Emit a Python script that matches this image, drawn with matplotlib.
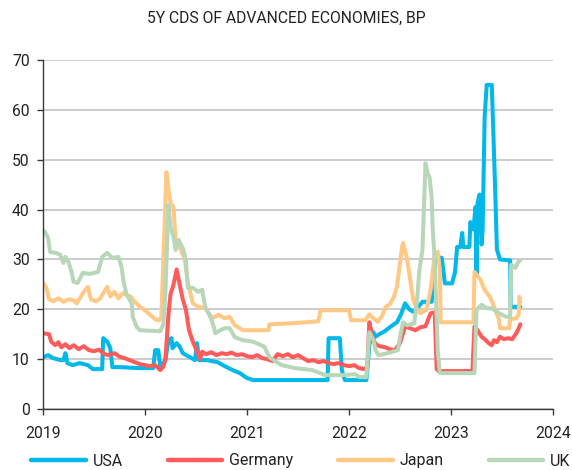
import matplotlib
matplotlib.use("Agg")
import matplotlib.pyplot as plt
from matplotlib.lines import Line2D

plt.rcParams['font.family'] = ['Roboto', 'DejaVu Sans']

title = "5Y CDS OF ADVANCED ECONOMIES, BP"
series_names = ["USA", "Germany", "Japan", "UK"]
colors = ["#00B8EA", "#FF5B5B", "#FFC985", "#B8D7B8"]
x_ticks = [2019, 2020, 2021, 2022, 2023, 2024]
y_ticks = [0, 10, 20, 30, 40, 50, 60, 70]

usa_t = [2019.00, 2019.05, 2019.10, 2019.17, 2019.20, 2019.22, 2019.24, 2019.29, 2019.36, 2019.44,
         2019.49, 2019.58, 2019.59, 2019.63, 2019.66, 2019.68, 2019.75, 2019.95, 2020.08, 2020.10,
         2020.13, 2020.15, 2020.20, 2020.23, 2020.26, 2020.27, 2020.31, 2020.34, 2020.37, 2020.44,
         2020.49, 2020.51, 2020.53, 2020.61, 2020.71, 2020.80, 2020.86, 2020.93, 2021.00, 2021.06,
         2021.79, 2021.80, 2021.91, 2021.93, 2021.96, 2022.17, 2022.18, 2022.20, 2022.24, 2022.25,
         2022.28, 2022.35, 2022.40, 2022.47, 2022.51, 2022.55, 2022.59, 2022.63, 2022.68, 2022.72,
         2022.81, 2022.84, 2022.86, 2022.91, 2022.94, 2023.01, 2023.04, 2023.06, 2023.09, 2023.11,
         2023.12, 2023.18, 2023.19, 2023.22, 2023.24, 2023.25, 2023.26, 2023.28, 2023.30, 2023.31,
         2023.33, 2023.35, 2023.40, 2023.41, 2023.43, 2023.45, 2023.48, 2023.58, 2023.585, 2023.68]
usa_v = [10.4, 10.8, 10.2, 9.8, 9.8, 11.2, 9.2, 8.8, 9.2, 8.8,
         8.0, 8.0, 14.2, 13.5, 12.2, 8.4, 8.4, 8.2, 8.2, 11.8,
         11.8, 8.4, 9.8, 13.8, 14.2, 12.2, 13.2, 12.5, 11.2, 10.4,
         9.8, 13.2, 9.8, 9.8, 9.4, 8.4, 7.8, 7.2, 6.2, 5.8,
         5.8, 14.2, 14.2, 7.8, 5.8, 5.8, 8.0, 13.0, 15.4, 14.4,
         14.8, 15.6, 16.4, 17.4, 19.0, 21.2, 20.0, 19.5, 20.5, 21.5,
         21.5, 29.0, 30.5, 30.3, 25.2, 25.2, 27.5, 32.5, 32.5, 35.3,
         32.5, 32.5, 37.5, 36.0, 40.5, 27.0, 41.3, 43.0, 33.0, 36.0,
         58.6, 65.0, 65.0, 58.6, 46.0, 32.0, 30.0, 29.8, 20.5, 20.5]

ger_t = [2019.00, 2019.06, 2019.08, 2019.12, 2019.15, 2019.18, 2019.22, 2019.26, 2019.30, 2019.35,
         2019.40, 2019.45, 2019.50, 2019.55, 2019.60, 2019.65, 2019.70, 2019.75, 2019.80, 2019.85,
         2019.90, 2019.95, 2020.00, 2020.05, 2020.10, 2020.15, 2020.18, 2020.20, 2020.23, 2020.25,
         2020.28, 2020.31, 2020.34, 2020.37, 2020.40, 2020.43, 2020.46, 2020.49, 2020.54, 2020.56,
         2020.60, 2020.65, 2020.70, 2020.75, 2020.80, 2020.85, 2020.90, 2020.95, 2021.00, 2021.05,
         2021.10, 2021.15, 2021.20, 2021.25, 2021.30, 2021.35, 2021.40, 2021.45, 2021.50, 2021.55,
         2021.60, 2021.65, 2021.70, 2021.75, 2021.80, 2021.85, 2021.90, 2021.95, 2022.00, 2022.05,
         2022.10, 2022.15, 2022.18, 2022.20, 2022.23, 2022.26, 2022.30, 2022.35, 2022.40, 2022.45,
         2022.50, 2022.55, 2022.60, 2022.65, 2022.70, 2022.75, 2022.80, 2022.84, 2022.86, 2022.88,
         2023.21, 2023.23, 2023.26, 2023.30, 2023.33, 2023.37, 2023.40, 2023.42, 2023.45, 2023.48,
         2023.52, 2023.56, 2023.60, 2023.64, 2023.66, 2023.68]
ger_v = [15.2, 15.0, 13.5, 12.8, 13.4, 12.4, 13.0, 12.2, 12.8, 12.0,
         12.6, 11.8, 11.6, 11.9, 11.0, 10.8, 11.2, 10.5, 10.2, 9.8,
         9.4, 9.0, 8.8, 8.6, 8.8, 7.8, 8.5, 10.0, 19.0, 23.0,
         25.0, 28.0, 25.0, 22.0, 20.0, 16.0, 14.0, 12.5, 10.0, 11.5,
         11.0, 11.4, 10.8, 11.2, 11.0, 11.3, 10.8, 11.0, 10.6, 10.4,
         10.8, 10.2, 10.0, 9.6, 11.0, 10.6, 11.0, 10.4, 10.8, 10.2,
         9.6, 9.8, 9.4, 9.6, 9.2, 9.0, 9.2, 8.8, 8.6, 8.8,
         8.2, 8.0, 8.5, 17.4, 14.4, 13.0, 12.6, 12.4, 12.0, 11.8,
         13.2, 16.6, 16.2, 15.8, 16.4, 16.6, 19.2, 19.4, 8.0, 7.6,
         7.6, 16.5, 15.8, 14.5, 14.0, 13.2, 12.8, 13.8, 13.4, 14.5,
         14.0, 14.2, 14.0, 15.2, 16.0, 17.0]

jap_t = [2019.00, 2019.03, 2019.06, 2019.10, 2019.15, 2019.20, 2019.25, 2019.30, 2019.33, 2019.37,
         2019.40, 2019.44, 2019.47, 2019.52, 2019.56, 2019.60, 2019.63, 2019.66, 2019.70, 2019.74,
         2019.78, 2019.82, 2019.86, 2019.90, 2019.95, 2020.00, 2020.05, 2020.10, 2020.14, 2020.16,
         2020.18, 2020.21, 2020.23, 2020.25, 2020.28, 2020.30, 2020.34, 2020.39, 2020.42, 2020.47,
         2020.52, 2020.59, 2020.66, 2020.72, 2020.78, 2020.83, 2020.88, 2020.96, 2021.21, 2021.22,
         2021.45, 2021.70, 2021.72, 2022.00, 2022.02, 2022.16, 2022.20, 2022.24, 2022.28, 2022.32,
         2022.36, 2022.40, 2022.44, 2022.47, 2022.52, 2022.53, 2022.57, 2022.60, 2022.63, 2022.67,
         2022.70, 2022.76, 2022.80, 2022.84, 2022.87, 2022.89, 2022.90, 2023.22, 2023.23, 2023.29,
         2023.33, 2023.38, 2023.41, 2023.44, 2023.47, 2023.48, 2023.57, 2023.58, 2023.64, 2023.665,
         2023.67, 2023.68]
jap_v = [25.3, 24.5, 22.0, 21.6, 22.2, 21.5, 22.0, 21.8, 21.2, 22.5,
         23.5, 24.5, 22.0, 21.6, 22.2, 23.5, 24.5, 22.6, 23.5, 22.2,
         23.2, 22.9, 22.5, 21.5, 20.5, 19.8, 18.9, 18.0, 17.8, 18.5,
         30.0, 47.5, 44.0, 41.3, 40.5, 33.9, 32.5, 30.0, 25.3, 21.2,
         20.5, 20.2, 18.2, 18.9, 18.2, 18.5, 16.8, 15.8, 15.8, 17.0,
         17.2, 17.6, 19.8, 19.8, 17.8, 17.8, 19.0, 18.2, 17.5, 18.5,
         20.5, 21.0, 22.5, 24.5, 32.5, 33.3, 30.0, 25.9, 21.9, 19.9,
         19.2, 19.9, 23.9, 31.0, 31.5, 28.0, 17.4, 17.4, 27.5, 25.9,
         23.9, 22.5, 21.2, 19.5, 18.0, 16.2, 16.2, 18.0, 18.2, 19.0,
         22.5, 21.5]

uk_t = [2019.00, 2019.02, 2019.05, 2019.07, 2019.13, 2019.17, 2019.20, 2019.22, 2019.25, 2019.28,
        2019.30, 2019.34, 2019.39, 2019.46, 2019.54, 2019.58, 2019.63, 2019.68, 2019.74, 2019.77,
        2019.79, 2019.82, 2019.87, 2019.88, 2019.92, 2019.95, 2020.15, 2020.18, 2020.20, 2020.23,
        2020.25, 2020.28, 2020.30, 2020.33, 2020.37, 2020.40, 2020.42, 2020.47, 2020.52, 2020.56,
        2020.59, 2020.64, 2020.67, 2020.69, 2020.74, 2020.78, 2020.83, 2020.88, 2020.96, 2021.06,
        2021.17, 2021.22, 2021.26, 2021.34, 2021.47, 2021.64, 2021.77, 2021.95, 2022.06, 2022.10,
        2022.17, 2022.20, 2022.24, 2022.26, 2022.29, 2022.38, 2022.48, 2022.50, 2022.53, 2022.57,
        2022.64, 2022.67, 2022.69, 2022.72, 2022.75, 2022.77, 2022.79, 2022.81, 2022.82, 2022.84,
        2022.87, 2022.89, 2023.23, 2023.25, 2023.30, 2023.35, 2023.40, 2023.47, 2023.54, 2023.58,
        2023.59, 2023.63, 2023.66, 2023.68]
uk_v = [35.9, 35.5, 34.3, 31.5, 31.3, 30.9, 29.3, 30.5, 29.5, 27.5,
        25.5, 25.3, 27.3, 27.1, 27.5, 30.5, 31.3, 30.3, 30.5, 28.5,
        25.5, 22.9, 21.2, 18.5, 16.4, 15.8, 15.6, 17.0, 23.3, 40.9,
        36.5, 34.5, 31.9, 33.9, 32.3, 29.9, 24.3, 24.3, 23.5, 23.9,
        20.5, 18.5, 16.8, 15.2, 15.8, 16.2, 16.2, 14.4, 13.8, 13.5,
        12.5, 10.4, 9.8, 8.8, 8.2, 7.8, 6.8, 6.8, 7.0, 6.4,
        6.4, 15.4, 13.8, 11.8, 10.8, 11.2, 11.8, 14.4, 17.4, 16.8,
        17.2, 22.5, 27.9, 31.9, 49.3, 47.3, 46.5, 42.5, 36.5, 29.9,
        11.8, 7.2, 7.2, 19.9, 20.9, 20.2, 20.2, 19.2, 18.5, 18.5,
        28.9, 28.3, 29.5, 29.9]

data = [(usa_t, usa_v), (ger_t, ger_v), (jap_t, jap_v), (uk_t, uk_v)]

fig = plt.figure(figsize=(5.72, 4.70), dpi=100)
ax = fig.add_axes([43/572, 1 - 409/470, 510/572, 349/470])

for (t, v), c, name in zip(data, colors, series_names):
    ax.plot(t, v, color=c, lw=2.9, label=name, solid_joinstyle='round', solid_capstyle='round')

ax.set_xlim(2019, 2024)
ax.set_ylim(0, 70)
ax.set_xticks(x_ticks)
ax.set_xticklabels([str(x) for x in x_ticks])
ax.set_yticks(y_ticks)
ax.yaxis.grid(True, color='#C8C8C8', lw=1.3)
ax.set_axisbelow(True)
for s in ['top', 'right']:
    ax.spines[s].set_visible(False)
for s in ['left', 'bottom']:
    ax.spines[s].set_color('#3A3A3A')
    ax.spines[s].set_linewidth(1.0)
ax.tick_params(axis='both', colors='#3A3A3A', labelcolor='#222222', labelsize=11.3, length=4.5, width=1.0)
ax.tick_params(axis='y', pad=5)
ax.tick_params(axis='x', pad=8)

fig.text(0.5, 1 - 18/470, title, ha='center', va='center', fontsize=11.3, color='#222222')

handles = [Line2D([0], [0], color=c, lw=3.2, solid_capstyle='round') for c in colors]
leg = fig.legend(handles, series_names, loc='center', bbox_to_anchor=(301/572, 1 - 461/470),
                 ncol=4, frameon=False, fontsize=11.5, handlelength=3.4, handletextpad=0.45,
                 columnspacing=2.8, borderaxespad=0, borderpad=0)
for txt in leg.get_texts():
    txt.set_color('#222222')

fig.savefig("out.png", dpi=100)
